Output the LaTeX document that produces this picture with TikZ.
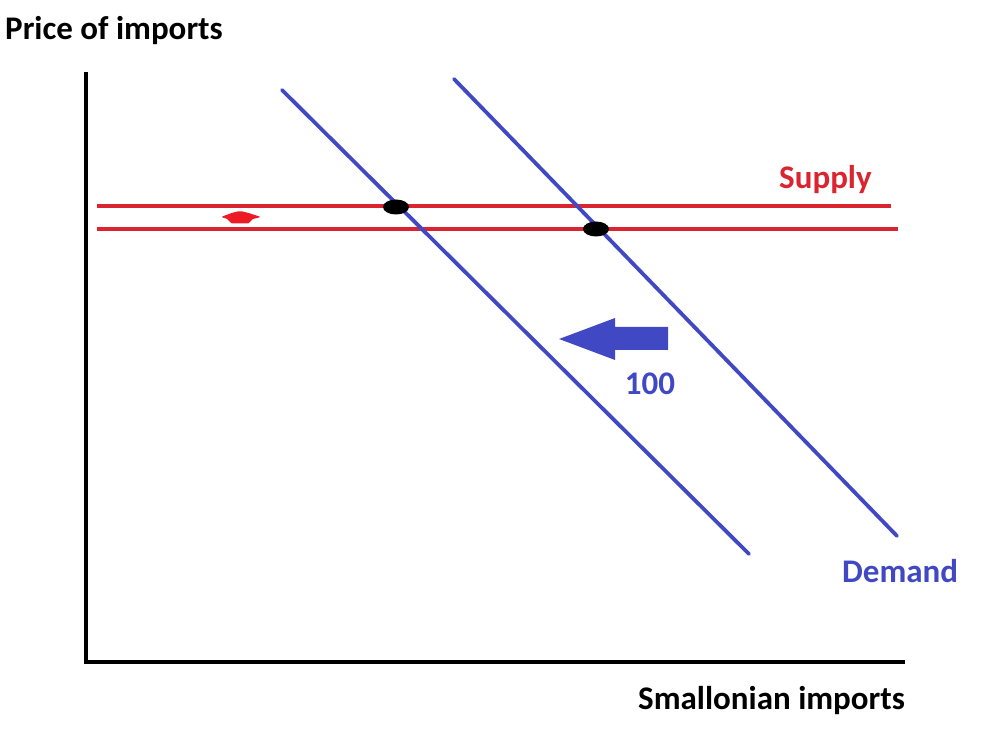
\documentclass[tikz,border=0pt]{standalone}
\usepackage{fontspec}
\setmainfont{Carlito}
\usetikzlibrary{shapes.geometric}
\definecolor{supplyred}{RGB}{218,37,48}
\definecolor{shiftred}{RGB}{237,28,36}
\definecolor{demandblue}{RGB}{64,72,196}
\tikzset{
  axis/.style={line width=4pt},
  supplyline/.style={supplyred, line width=3.8pt},
  demandline/.style={demandblue, line width=3.8pt, line cap=round},
  eqdot/.style={ellipse, fill=black, minimum width=26pt, minimum height=15pt, inner sep=0pt},
  lbl/.style={font=\bfseries\fontsize{33}{35}\selectfont, inner sep=0pt},
}
\begin{document}
\begin{tikzpicture}[x=1pt,y=-1pt]
   \useasboundingbox (0,0) rectangle (997,751);
   % axes
   \coordinate (ytop) at (86,72);
   \coordinate (orig) at (86,662);
   \coordinate (xend) at (905,662);
   \draw[axis] (ytop) -- (orig) -- (xend);
   \node[lbl, anchor=base west] (ylabel) at (5,40) {Price of imports};
   \node[lbl, anchor=base west] (xlabel) at (638,709) {Smallonian imports};
   % supply
   \coordinate (s1a) at (97,206);
   \coordinate (s1b) at (891,206);
   \coordinate (s2a) at (97,229);
   \coordinate (s2b) at (898,229);
   \draw[supplyline] (s1a) -- (s1b);
   \draw[supplyline] (s2a) -- (s2b);
   \node[lbl, supplyred, anchor=base west] (slabel) at (779,189) {Supply};
   % demand
   \coordinate (d1a) at (282,90);
   \coordinate (d1b) at (749,554);
   \coordinate (d2a) at (454,79);
   \coordinate (d2b) at (897,536);
   \draw[demandline] (d1a) -- (d1b);
   \draw[demandline] (d2a) -- (d2b);
   \node[lbl, demandblue, anchor=base west] (dlabel) at (842,582) {Demand};
   % equilibria
   \node[eqdot] (e1) at (396,207) {};
   \node[eqdot] (e2) at (596,229) {};
   % shift
   \fill[shiftred, rounded corners=2pt] (221,217) -- (233,212.5) -- (240,211) -- (247,212.5) -- (261,217)
      -- (251,219.5) -- (250,223.5) -- (230,223.5) -- (229,219.5) -- cycle;
   \fill[demandblue] (559,339) -- (615,318) -- (615,327) -- (668,327)
      -- (668,350) -- (615,350) -- (615,360) -- cycle;
   \node[lbl, demandblue, anchor=base] (amount) at (650,395) {100};
\end{tikzpicture}
\end{document}
